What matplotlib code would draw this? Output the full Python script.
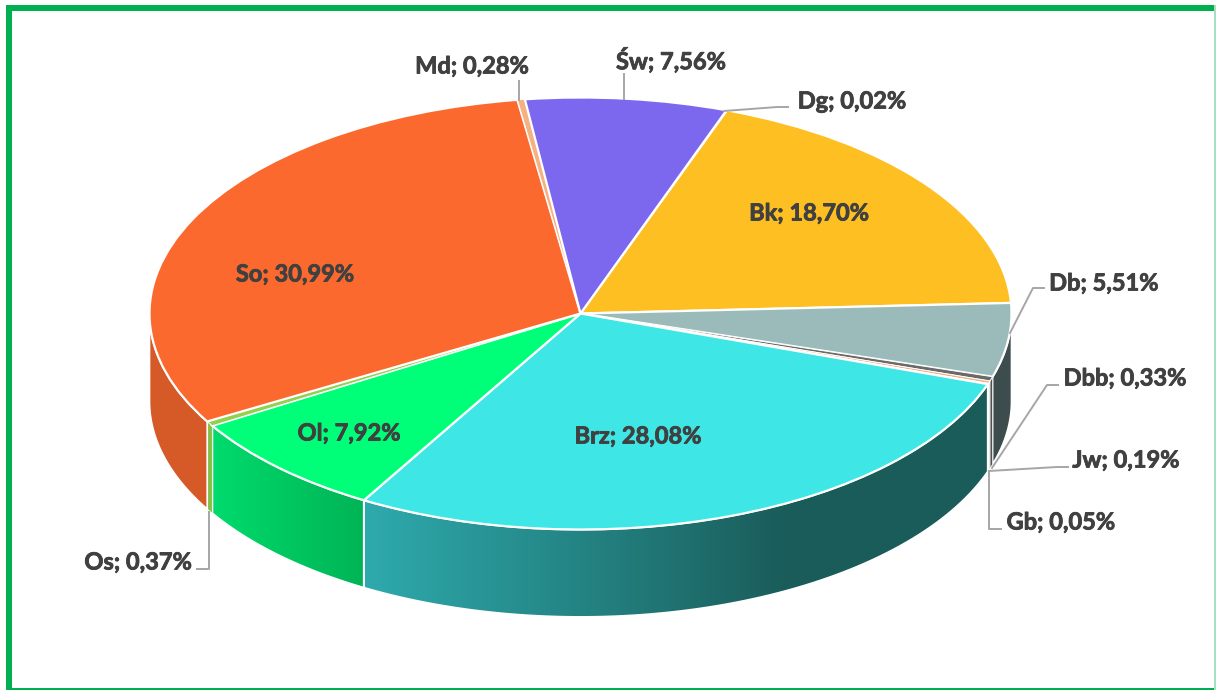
import numpy as np
import matplotlib
matplotlib.use('Agg')
import matplotlib.pyplot as plt
import matplotlib.patheffects as pe
from matplotlib.colors import LinearSegmentedColormap
from matplotlib.lines import Line2D
from matplotlib.patches import Polygon, Rectangle

plt.rcParams['font.family'] = ['Lato', 'DejaVu Sans']

# ================= Data =================
names = ['Dg', 'Bk', 'Db', 'Dbb', 'Jw', 'Gb', 'Brz', 'Ol', 'Os', 'So', 'Md', 'Św']
values = [0.02, 18.70, 5.51, 0.33, 0.19, 0.05, 28.08, 7.92, 0.37, 30.99, 0.28, 7.56]
top_colors = ['#F4B183', '#FDBF21', '#9BBBBB', '#6A6A6A', '#F4B183', '#E8E8E8',
              '#3EE6E6', '#00FF78', '#92D050', '#FC692E', '#F4B183', '#7B68EE']
side_colors = ['#C99060', '#C99A1A', '#3D4C4C', '#505050', '#D8D8D8', '#C8C8C8',
               '#1A5C5A', '#00B455', '#86C04A', '#D55A27', '#C99060', '#6052B8']

W, H = 1216, 690
CX, CY = 580.5, 313.5
RX, RY = 431, 216
DEPTH = 87.5 / RY
START = 70.2


def fx(x):
    return x / W


def fy(y):
    return 1 - y / H


fig = plt.figure(figsize=(W / 100, H / 100), dpi=100, facecolor='white')
ax = fig.add_axes([0, 0, 1, 1])

wedges, _ = ax.pie(values, colors=top_colors, startangle=START, counterclock=False,
                   radius=1, wedgeprops={'edgecolor': 'white', 'linewidth': 1.6, 'zorder': 3})
# thin slices would vanish under a full width white edge
for w, v in zip(wedges, values):
    if v < 1:
        w.set_linewidth(0.7)
ax.set_aspect('auto')
xlim = (-CX / RX, (W - CX) / RX)
ylim = ((CY - H) / RY, CY / RY)

# ================= Side wall =================
gradients = {
    'Brz': (['#2EAAAD', '#23807F', '#1A5C5A', '#1A5C5A'], [0, 0.38, 0.68, 1]),
    'Ol': (['#00DB6D', '#00B455'], [0, 1]),
}
bounds = START - np.cumsum([0] + values) * 3.6
for i, name in enumerate(names):
    a1 = min(bounds[i], 0)
    a2 = max(bounds[i + 1], -180)
    if a1 <= a2:
        continue
    t = np.radians(np.linspace(a1, a2, 80))
    xs = np.cos(t)
    ys = np.sin(t)
    pts = np.column_stack([np.r_[xs, xs[::-1]], np.r_[ys, ys[::-1] - DEPTH]])
    if name in gradients:
        poly = Polygon(pts, closed=True, facecolor='none', edgecolor='white', linewidth=1.4, zorder=2)
        ax.add_patch(poly)
        cols, stops = gradients[name]
        cmap = LinearSegmentedColormap.from_list(name, list(zip(stops, cols)))
        # left to right colour ramp, clipped to the wall shape
        img = ax.imshow(np.linspace(0, 1, 256)[None, :], cmap=cmap, aspect='auto', zorder=1.5,
                        extent=(xs.min(), xs.max(), ys.min() - DEPTH, ys.max()), interpolation='bilinear')
        img.set_clip_path(poly)
    else:
        lw = 0.5 if values[i] < 1 else 1.2
        ax.add_patch(Polygon(pts, closed=True, facecolor=side_colors[i], edgecolor='white',
                             linewidth=lw, zorder=2))

ax.set_xlim(xlim)
ax.set_ylim(ylim)
ax.axis('off')

# ================= Leader lines =================
leaders = [
    [(519, 81), (519, 100)],
    [(624, 74), (624, 99)],
    [(724, 111), (777, 107), (788, 107)],
    [(1010, 333), (1033, 288), (1044, 288)],
    [(992, 468), (1047, 385), (1058, 385)],
    [(989, 471), (1057, 467), (1068, 467)],
    [(989, 471), (989, 529), (1001, 529)],
    [(209, 512), (209, 569), (197, 569)],
]
for line in leaders:
    fig.add_artist(Line2D([fx(p[0]) for p in line], [fy(p[1]) for p in line],
                          color='#A6A6A6', linewidth=1.4, zorder=5))

# ================= Labels =================
label_pos = {'Dg': (852, 101), 'Bk': (809, 213), 'Db': (1104, 283), 'Dbb': (1125, 378),
             'Jw': (1126, 460), 'Gb': (1061, 522), 'Brz': (638, 436), 'Ol': (349, 433),
             'Os': (138, 562), 'So': (295, 274), 'Md': (472, 66), 'Św': (671, 60)}
for name, v in zip(names, values):
    txt = f"{name}; {v:.2f}%".replace('.', ',')
    x, y = label_pos[name]
    fig.text(fx(x), fy(y), txt, fontsize=17, fontweight='bold', color='#404040',
             ha='center', va='center', zorder=6,
             path_effects=[pe.withStroke(linewidth=0.6, foreground='#404040')])

# ================= Green frame =================
frame = [(6, 5, 1210, 6), (6, 5, 6, 685), (6, 688, 1210, 2), (1214, 5, 2, 685)]
for x, y, w, h in frame:
    col = '#A8DFC0' if x == 1214 else '#00B050'
    fig.add_artist(Rectangle((fx(x), fy(y + h)), w / W, h / H, transform=fig.transFigure,
                             facecolor=col, edgecolor='none', zorder=7))

fig.savefig('out.png', dpi=100)
